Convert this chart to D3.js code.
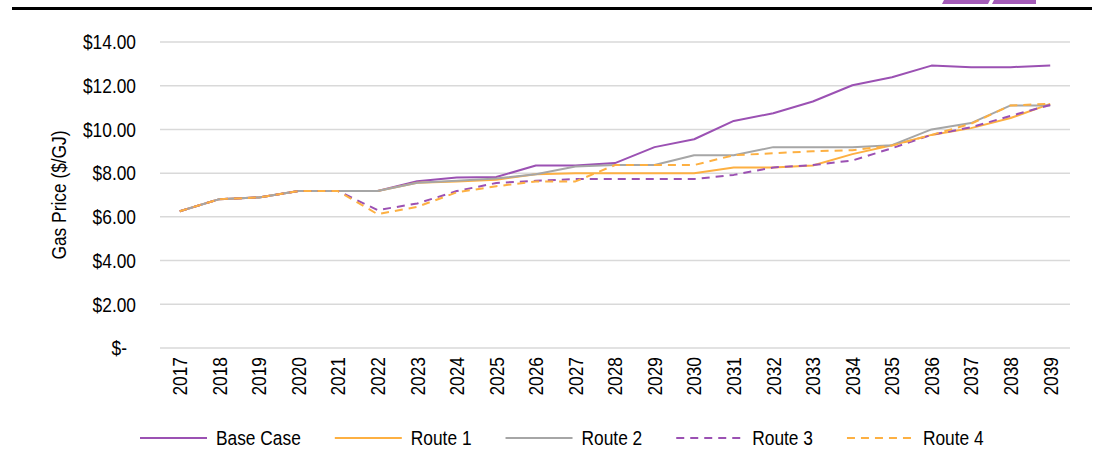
<!DOCTYPE html>
<html>
<head>
<meta charset="utf-8">
<script src="https://cdn.jsdelivr.net/npm/d3@7"></script>
<style>
  html, body { margin: 0; padding: 0; background: #fff; }
  svg { display: block; font-family: "Liberation Sans", Arial, sans-serif; }
</style>
</head>
<body>
<svg id="chart" width="1110" height="452"></svg>
<script>
const years = ["2017","2018","2019","2020","2021","2022","2023","2024","2025","2026","2027","2028","2029","2030","2031","2032","2033","2034","2035","2036","2037","2038","2039"];
const baseCase = [6.26, 6.81, 6.89, 7.18, 7.18, 7.18, 7.63, 7.80, 7.82, 8.35, 8.35, 8.46, 9.19, 9.55, 10.39, 10.74, 11.28, 12.02, 12.39, 12.92, 12.85, 12.85, 12.92];
const route1   = [6.26, 6.81, 6.89, 7.18, 7.18, 7.18, 7.56, 7.62, 7.70, 7.95, 8.00, 8.00, 8.00, 8.00, 8.26, 8.26, 8.35, 8.87, 9.28, 9.75, 10.06, 10.52, 11.17];
const route2   = [6.26, 6.81, 6.89, 7.18, 7.18, 7.18, 7.56, 7.65, 7.75, 7.95, 8.30, 8.37, 8.37, 8.82, 8.82, 9.19, 9.19, 9.19, 9.28, 10.00, 10.29, 11.10, 11.10];
const route3   = [6.26, 6.81, 6.89, 7.18, 7.18, 6.31, 6.61, 7.18, 7.55, 7.65, 7.73, 7.73, 7.73, 7.73, 7.92, 8.26, 8.37, 8.58, 9.14, 9.75, 10.10, 10.62, 11.12];
const route4   = [6.26, 6.81, 6.89, 7.18, 7.18, 6.12, 6.46, 7.12, 7.40, 7.62, 7.62, 8.37, 8.37, 8.37, 8.82, 8.91, 9.00, 9.05, 9.26, 9.75, 10.26, 11.10, 11.17];
const yTicks = [0, 2, 4, 6, 8, 10, 12, 14];
const seriesNames = ["Base Case", "Route 1", "Route 2", "Route 3", "Route 4"];

const PURPLE = "#9B51B3", ORANGE = "#FDB042", GREY = "#A6A6A6";
const series = [
  { name: seriesNames[0], values: baseCase, color: PURPLE, dash: null },
  { name: seriesNames[1], values: route1,   color: ORANGE, dash: null },
  { name: seriesNames[2], values: route2,   color: GREY,   dash: null },
  { name: seriesNames[3], values: route3,   color: PURPLE, dash: "8,6" },
  { name: seriesNames[4], values: route4,   color: ORANGE, dash: "8,6" }
];

const svg = d3.select("#chart");
const FS = 19.5;     // font size (tall, condensed look)
const SX = 0.89;     // horizontal condensation

// header rule and logo fragment
svg.append("line").attr("x1", 12).attr("x2", 1092).attr("y1", 8.5).attr("y2", 8.5)
  .attr("stroke", "#000").attr("stroke-width", 3);
svg.append("polygon").attr("points", "944,0 990,0 988,4 942,4").attr("fill", "#A45BB8");
svg.append("polygon").attr("points", "994,0 1036,0 1036,4 992,4").attr("fill", "#A45BB8");

const x = d3.scalePoint().domain(years).range([160, 1070]).padding(0.5);
const y = d3.scaleLinear().domain([0, 14]).range([348, 42]);

// gridlines
svg.append("g").selectAll("line").data(yTicks).join("line")
  .attr("x1", 160).attr("x2", 1070)
  .attr("y1", d => y(d)).attr("y2", d => y(d))
  .attr("stroke", "#D9D9D9").attr("stroke-width", 1.5);

// y axis labels
const yAxis = d3.axisLeft(y).tickValues(yTicks).tickSize(0)
  .tickFormat(d => d === 0 ? "$-" : "$" + d3.format(".2f")(d));
const ya = svg.append("g").attr("transform", "translate(160,0)").call(yAxis);
ya.select(".domain").remove();
ya.selectAll("text").attr("font-size", FS).attr("fill", "#000")
  .attr("font-family", "'Liberation Sans', Arial, sans-serif")
  .attr("x", 0).attr("dy", "0.35em")
  .attr("transform", d => `translate(${d === 0 ? -33 : -24},0) scale(${SX},1)`);

// y title
svg.append("text")
  .attr("transform", `translate(66,${(y(0) + y(14)) / 2}) rotate(-90) scale(${SX},1)`)
  .attr("text-anchor", "middle").attr("font-size", FS).attr("fill", "#000")
  .text("Gas Price ($/GJ)");

// x axis labels
const xAxis = d3.axisBottom(x).tickSize(0);
const xa = svg.append("g").attr("transform", "translate(0,348)").call(xAxis);
xa.select(".domain").remove();
xa.selectAll("text").attr("font-size", FS).attr("fill", "#000")
  .attr("font-family", "'Liberation Sans', Arial, sans-serif")
  .attr("transform", `rotate(-90) translate(-9,0) scale(${SX},1)`)
  .attr("text-anchor", "end").attr("x", 0).attr("y", 0).attr("dy", "0.35em");

// lines
const line = d3.line().x((d, i) => x(years[i])).y(d => y(d));
svg.append("g").selectAll("path").data(series).join("path")
  .attr("d", d => line(d.values))
  .attr("fill", "none").attr("stroke", d => d.color).attr("stroke-width", 2)
  .attr("stroke-dasharray", d => d.dash).attr("stroke-linejoin", "round");

// legend
const lg = svg.append("g");
let lx = 140;
const ly = 438;
series.forEach(s => {
  lg.append("line").attr("x1", lx).attr("x2", lx + 67).attr("y1", ly).attr("y2", ly)
    .attr("stroke", s.color).attr("stroke-width", 2).attr("stroke-dasharray", s.dash);
  const t = lg.append("text").attr("x", 0).attr("y", 0).attr("dy", "0.35em")
    .attr("transform", `translate(${lx + 76},${ly}) scale(${SX},1)`)
    .attr("font-size", FS).attr("fill", "#000").text(s.name);
  lx = lx + 76 + t.node().getComputedTextLength() * SX + 34;
});
</script>
</body>
</html>
